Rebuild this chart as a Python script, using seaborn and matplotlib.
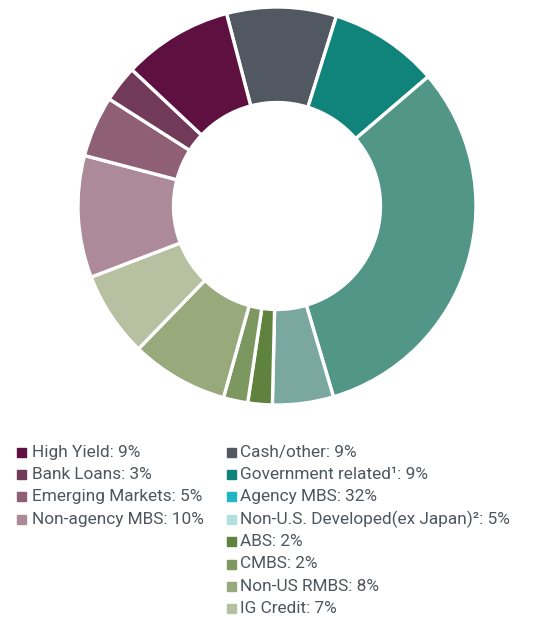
import numpy as np
import matplotlib.pyplot as plt
import seaborn as sns
from matplotlib.patches import Rectangle

# slices, clockwise from the top
labels = ["Cash/other", "Government related", "Agency MBS", "Non-U.S. Developed(ex Japan)",
          "ABS", "CMBS", "Non-US RMBS", "IG Credit", "Non-agency MBS",
          "Emerging Markets", "Bank Loans", "High Yield"]
values = [9, 9, 32, 5, 2, 2, 8, 7, 10, 5, 3, 9]
pie_colors = ["#525861", "#10847a", "#529688", "#7aa8a0", "#5f823e", "#7c9760",
              "#98a97b", "#b7c0a1", "#ad8a99", "#8f5f75", "#713a58", "#5e1041"]

# legend (two columns)
legend_left = ["High Yield: 9%", "Bank Loans: 3%", "Emerging Markets: 5%", "Non-agency MBS: 10%"]
legend_left_colors = ["#5e1041", "#713a58", "#8f5f75", "#ad8a99"]
legend_right = ["Cash/other: 9%", "Government related\u00b9: 9%", "Agency MBS: 32%",
                "Non-U.S. Developed(ex Japan)\u00b2: 5%", "ABS: 2%", "CMBS: 2%",
                "Non-US RMBS: 8%", "IG Credit: 7%"]
legend_right_colors = ["#525861", "#10847a", "#1fb5c4", "#b2e0dc", "#5f823e", "#7c9760",
                       "#98a97b", "#b7c0a1"]

sns.set_theme(style="white")
plt.rcParams['font.family'] = ['Roboto', 'DejaVu Sans']

W, H = 542, 623
fig = plt.figure(figsize=(W / 100, H / 100), dpi=100)

cx, cy, r = 277, 206, 199
ax = fig.add_axes([(cx - r) / W, (H - cy - r) / H, 2 * r / W, 2 * r / H])
ax.pie(values, colors=pie_colors, startangle=104.7, counterclock=False,
       wedgeprops=dict(width=0.48, edgecolor="white", linewidth=2.4))
ax.set_xlim(-1, 1)
ax.set_ylim(-1, 1)
ax.set_aspect("equal")
ax.axis("off")

text_color = "#4f565e"
row_h = 22.4


def draw_column(items, colors, sx, tx, y0):
    for i, (t, c) in enumerate(zip(items, colors)):
        y = y0 + i * row_h
        fig.patches.append(Rectangle((sx / W, 1 - (y + 4.5) / H), 9 / W, 9 / H,
                                     transform=fig.transFigure, color=c))
        fig.text(tx / W, 1 - y / H, t, fontsize=12.4, color=text_color,
                 va="center", ha="left")


draw_column(legend_left, legend_left_colors, 17, 32, 452)
draw_column(legend_right, legend_right_colors, 227, 240, 452)

fig.savefig("out.png", dpi=100)
